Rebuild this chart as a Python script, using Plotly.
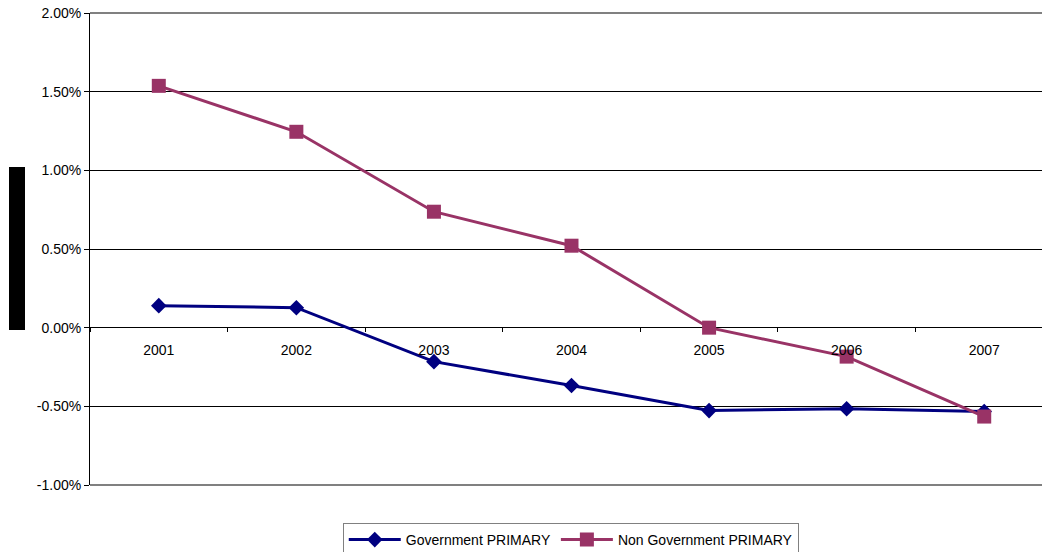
import plotly.graph_objects as go

years = ["2001", "2002", "2003", "2004", "2005", "2006", "2007"]
gov_primary = [0.14, 0.127, -0.216, -0.368, -0.527, -0.515, -0.533]
nongov_primary = [1.537, 1.245, 0.737, 0.521, 0.0, -0.184, -0.565]
y_ticks = [-1.0, -0.5, 0.0, 0.5, 1.0, 1.5, 2.0]
y_tick_labels = ["-1.00%", "-0.50%", "0.00%", "0.50%", "1.00%", "1.50%", "2.00%"]

NAVY = "#000080"
PLUM = "#993366"

fig = go.Figure()
fig.add_trace(go.Scatter(
    x=years, y=gov_primary, name="Government PRIMARY", mode="lines+markers",
    line=dict(color=NAVY, width=3), marker=dict(symbol="diamond", size=12, color=NAVY),
))
fig.add_trace(go.Scatter(
    x=years, y=nongov_primary, name="Non Government PRIMARY", mode="lines+markers",
    line=dict(color=PLUM, width=3), marker=dict(symbol="square", size=14, color=PLUM),
))

fig.update_layout(
    width=1042, height=552,
    margin=dict(l=90, r=0, t=13, b=67, autoexpand=False),
    paper_bgcolor="white", plot_bgcolor="white",
    font=dict(family="Liberation Sans, Arial, sans-serif", size=14, color="black"),
    showlegend=True,
    legend=dict(orientation="h", x=0.505, xanchor="center", y=(485 - 523) / 472, yanchor="top",
                bordercolor="#808080", borderwidth=1, bgcolor="white",
                font=dict(size=14), tracegroupgap=0, itemwidth=52),
    xaxis=dict(
        type="category", range=[-0.5, 6.42], showgrid=False, zeroline=False,
        showline=False, ticks="outside", ticklen=4, tickcolor="black", tickson="boundaries",
        anchor="free", position=(485 - 327) / 472,
        tickfont=dict(size=14), ticklabelstandoff=13,
    ),
    yaxis=dict(
        range=[-1.0, 2.0], tickvals=y_ticks, ticktext=y_tick_labels,
        showgrid=True, gridcolor="#000000", gridwidth=1, zeroline=False,
        showline=True, linecolor="black", linewidth=1,
        ticks="outside", ticklen=5, tickcolor="black", tickfont=dict(size=14),
    ),
    shapes=[
        dict(type="line", xref="paper", yref="paper", x0=0, x1=1, y0=1, y1=1,
             line=dict(color="#808080", width=2)),
        dict(type="line", xref="paper", yref="paper", x0=0, x1=1, y0=0, y1=0,
             line=dict(color="#808080", width=2)),
        dict(type="rect", xref="paper", yref="paper",
             x0=(9 - 90) / 952, x1=(25 - 90) / 952,
             y0=(485 - 330) / 472, y1=(485 - 167) / 472,
             fillcolor="black", line=dict(width=0), layer="above"),
    ],
)

fig.write_html(
    "out.html",
    config={"displayModeBar": False},
    post_script="document.body.style.margin='0';document.body.style.overflow='hidden';",
)
